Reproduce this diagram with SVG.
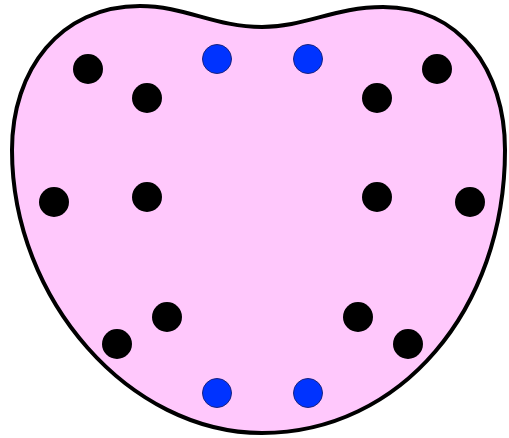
<svg xmlns="http://www.w3.org/2000/svg" width="509" height="438" viewBox="0 0 509 438">
<style>
.body{fill:#ffc8fc;stroke:#000;stroke-width:4}
.k{fill:#000}
.b{fill:#0033ff;stroke:#1a237e;stroke-width:1}
</style>
<rect width="509" height="438" fill="#fff"/>
<g id="cell">
<path class="body" d="M262 27 C215 27 185 6 140 6 C60 6 12 70 12 150 C12 300 130 433 262 433 C400 433 505 310 505 150 C505 70 460 7 383 7 C335 7 305 27 262 27 Z"/>
</g>
<g id="black-dots">
<circle class="k" cx="88" cy="69" r="15"/>
<circle class="k" cx="147" cy="98" r="15"/>
<circle class="k" cx="377" cy="98" r="15"/>
<circle class="k" cx="437" cy="69" r="15"/>
<circle class="k" cx="54" cy="202" r="15"/>
<circle class="k" cx="147" cy="197" r="15"/>
<circle class="k" cx="377" cy="197" r="15"/>
<circle class="k" cx="470" cy="202" r="15"/>
<circle class="k" cx="167" cy="317" r="15"/>
<circle class="k" cx="117" cy="344" r="15"/>
<circle class="k" cx="358" cy="317" r="15"/>
<circle class="k" cx="408" cy="344" r="15"/>
</g>
<g id="blue-dots">
<circle class="b" cx="217" cy="59" r="14.5"/>
<circle class="b" cx="308" cy="59" r="14.5"/>
<circle class="b" cx="217" cy="393" r="14.5"/>
<circle class="b" cx="308" cy="393" r="14.5"/>
</g>
</svg>
